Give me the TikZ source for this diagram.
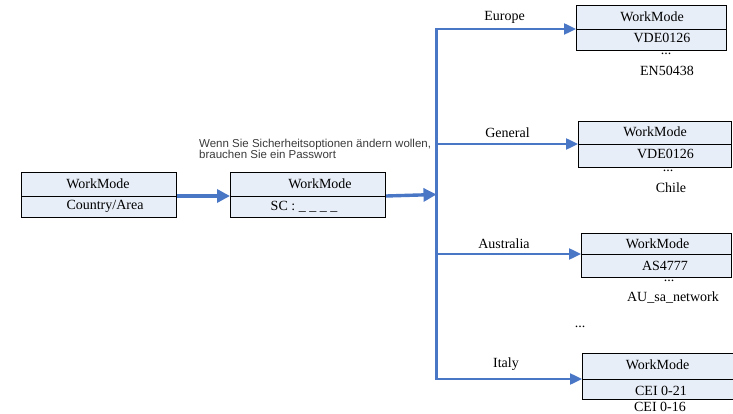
\documentclass[tikz,border=0pt]{standalone}
\usepackage{fontspec}
\setmainfont{Liberation Serif}
\newfontfamily\notesans{Liberation Sans}
\usetikzlibrary{arrows.meta}
\definecolor{boxfill}{HTML}{E8EEF8}
\definecolor{arrowblue}{HTML}{4A76C6}
\definecolor{notegray}{HTML}{3A3A3A}
\begin{document}
\begin{tikzpicture}[x=1pt,y=-1pt,
  cell/.style={draw=black, fill=boxfill, line width=1.1pt, inner sep=0pt, anchor=north west},
  txt/.style={inner sep=0pt, font=\fontsize{14}{16}\selectfont},
  flow/.style={draw=arrowblue, line width=3.4pt, -{Triangle[length=13pt,width=13pt]}},
  branch/.style={draw=arrowblue, line width=2.4pt, -{Triangle[length=12pt,width=11pt]}},
  trunk/.style={draw=arrowblue, line width=2.4pt, line cap=rect}]
\useasboundingbox (0,0) rectangle (733,414);

% box 1
\node[cell, minimum width=155pt, minimum height=24pt] (b1t) at (21,172) {};
\node[cell, minimum width=155pt, minimum height=21pt] (b1b) at (21,196) {};
\node[txt] (b1a) at (98,183.5) {WorkMode};
\node[txt] (b1c) at (105,206.5) {Country/Area};
% box 2
\node[cell, minimum width=155pt, minimum height=24pt] (b2t) at (230,172) {};
\node[cell, minimum width=155pt, minimum height=21pt] (b2b) at (230,196) {};
\node[txt] (b2a) at (320,183.5) {WorkMode};
\node[txt] (b2c) at (304,206.5) {SC : \_ \_ \_ \_};
% note
\node[inner sep=0pt, anchor=north west, align=left, text=notegray,
      font=\notesans\fontsize{11.5}{11}\selectfont] (note) at (199,138.8)
  {Wenn Sie Sicherheitsoptionen ändern wollen,\\brauchen Sie ein Passwort};

% Europe box
\node[cell, minimum width=150pt, minimum height=24pt] (eut) at (576,5) {};
\node[cell, minimum width=150pt, minimum height=21pt] (eub) at (576,29) {};
\node[txt] (eua) at (652,16.5) {WorkMode};
\node[txt] (euc) at (662,37.5) {VDE0126};
\node[txt, anchor=base] (eud) at (666,55) {...};
\node[txt] (eue) at (667,71) {EN50438};
% General box
\node[cell, minimum width=153pt, minimum height=23pt] (get) at (578,121) {};
\node[cell, minimum width=153pt, minimum height=23pt] (geb) at (578,144) {};
\node[txt] (gea) at (655,132) {WorkMode};
\node[txt] (gec) at (665.5,153.5) {VDE0126};
\node[txt, anchor=base] (ged) at (668,172) {...};
\node[txt] (gee) at (671,187.5) {Chile};
% Australia box
\node[cell, minimum width=150pt, minimum height=21pt] (aut) at (581,233) {};
\node[cell, minimum width=150pt, minimum height=23pt] (aub) at (581,254) {};
\node[txt] (aua) at (657.5,244) {WorkMode};
\node[txt] (auc) at (665,265.5) {AS4777};
\node[txt, anchor=base] (aud) at (669,281) {...};
\node[txt] (aue) at (673,297.5) {AU\_sa\_network};
% middle dots
\node[txt, anchor=base] (mid) at (580,327) {...};
% Italy box
\node[cell, minimum width=160pt, minimum height=26pt] (itt) at (582,353) {};
\node[cell, minimum width=160pt, minimum height=20pt] (itb) at (582,379) {};
\node[txt] (ita) at (657.5,364.5) {WorkMode};
\node[txt] (itc) at (661,391) {CEI 0-21};
\node[txt] (ite) at (660,406.5) {CEI 0-16};

% branch labels
\node[txt] (leu) at (504.5,17.5) {Europe};
\node[txt] (lge) at (507.5,133) {General};
\node[txt] (lau) at (504,243.5) {Australia};
\node[txt] (lit) at (506,364.5) {Italy};

% connectors
\coordinate (jn) at (436.5,194.5);
\coordinate (ttop) at (436.5,29);
\coordinate (tbot) at (436.5,379);
\draw[flow] (b1b.north east) -- (b2b.north west);
\draw[flow] (b2b.north east) -- (jn);
\draw[trunk] (ttop) -- (tbot);
\draw[branch] (ttop) -- (eub.north west);
\draw[branch] (ttop |- geb.north west) -- (geb.north west);
\draw[branch] (ttop |- aub.north west) -- (aub.north west);
\draw[branch] (tbot) -- (itb.north west);
\end{tikzpicture}
\end{document}
